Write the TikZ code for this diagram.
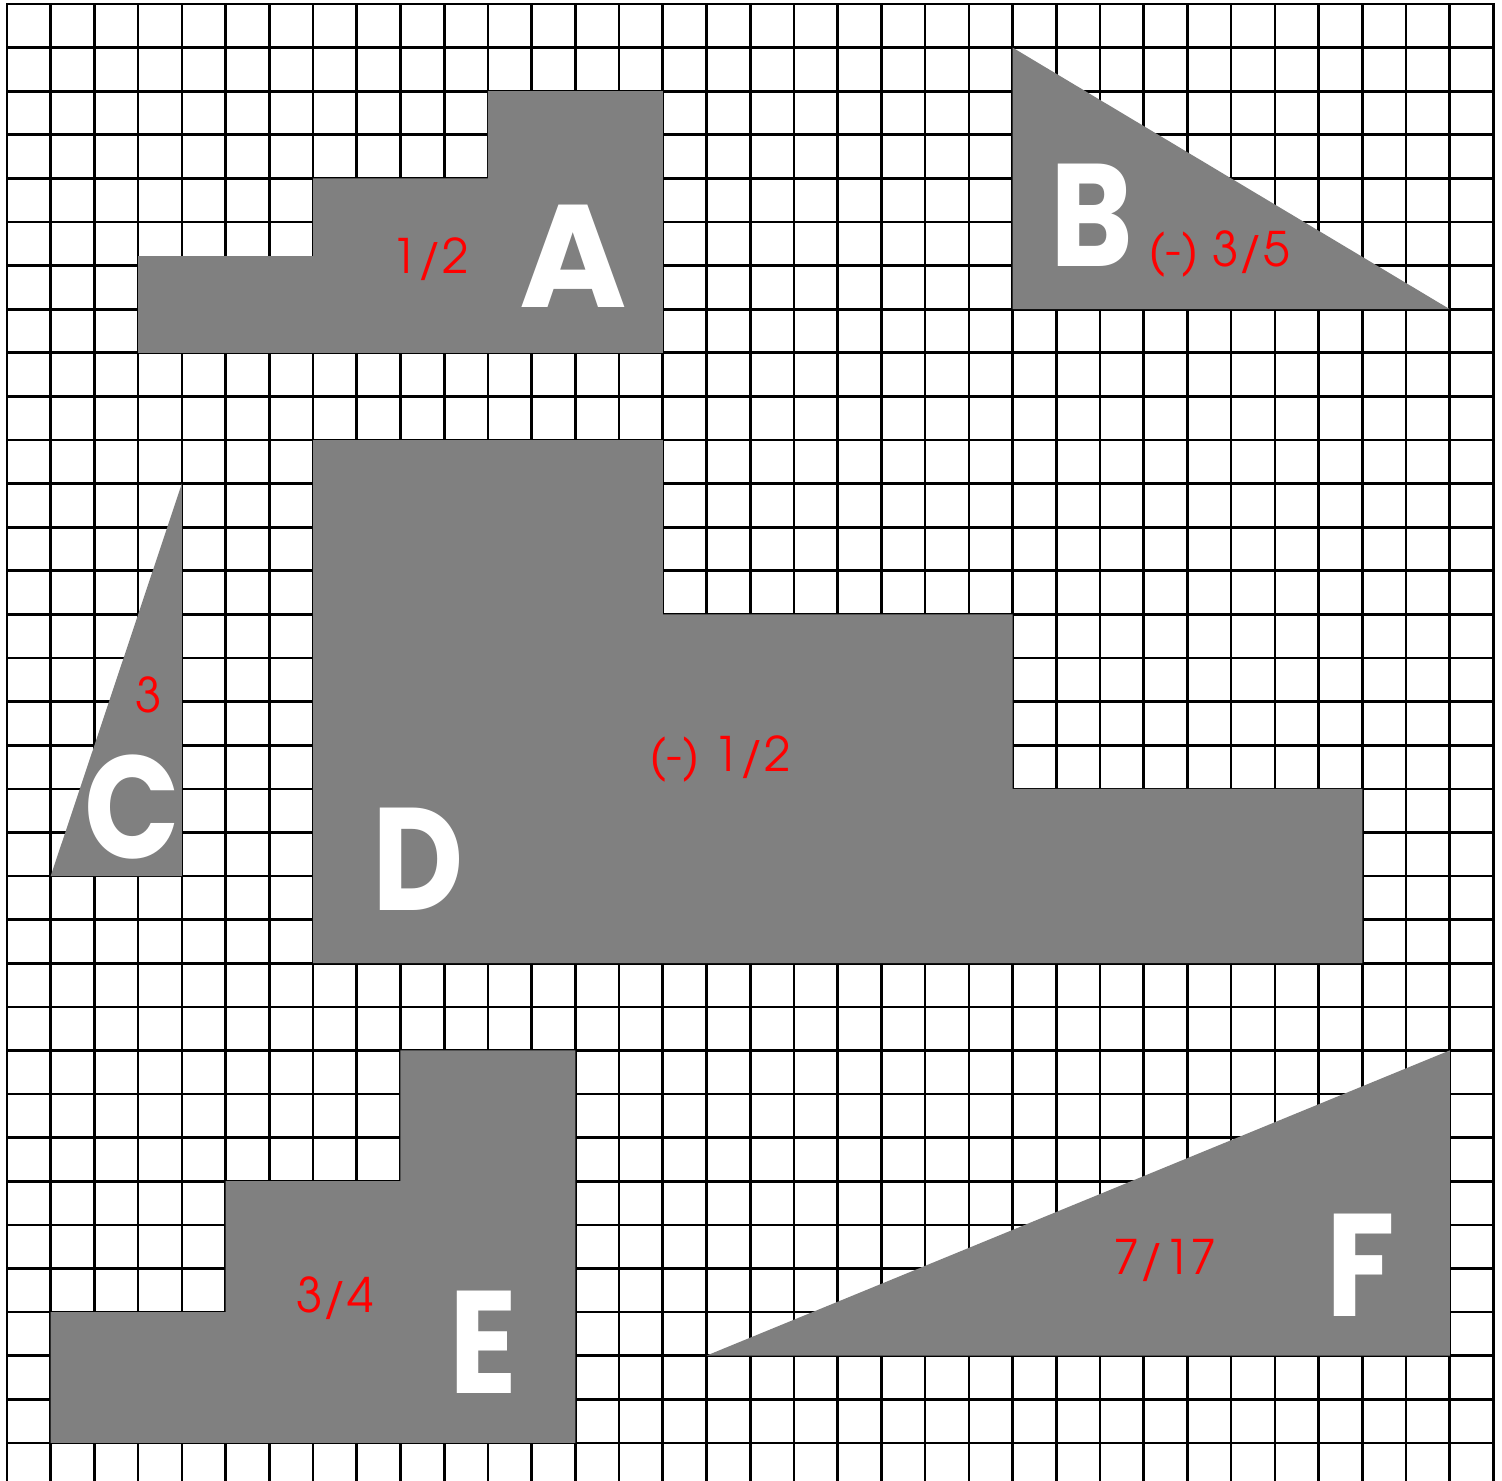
\documentclass[tikz,border=0pt]{standalone}
\usepackage{fontspec}
\IfFontExistsTF{texgyreadventor-regular.otf}{\setmainfont{texgyreadventor-regular.otf}}{\setmainfont{Poppins}}
\newfontfamily\letterfont{Poppins}[FakeStretch=0.86]
\newfontfamily\letterfontwide{Poppins}
\definecolor{shapegray}{HTML}{808080}
\tikzset{
  gridline/.style={line width=1.7pt, black, line cap=rect},
  shapefill/.style={fill=shapegray},
  val/.style={text=red, font=\fontsize{31}{31}\selectfont, inner sep=0pt, anchor=base},
  letter/.style={text=white, font=\letterfont\bfseries\fontsize{95}{95}\selectfont, inner sep=0pt, anchor=base},
  wideletter/.style={letter, font=\letterfontwide\bfseries\fontsize{95}{95}\selectfont}
}
\begin{document}
\begin{tikzpicture}[x={(1cm,0)}, y={(0,-0.99725cm)}]
\useasboundingbox (-0.160,-0.0917) rectangle (34.195,33.876);
\fill[white] (-0.160,-0.0917) rectangle (34.195,33.876);
% grid
\foreach \i in {0,...,34} \draw[gridline] (\i,0) -- (\i,34.2);
\foreach \j in {0,...,33} \draw[gridline] (0,\j) -- (34,\j);
% shapes
\fill[shapefill] (3,8) -- (3,5.78) -- (7,5.78) -- (7,4) -- (11,4) -- (11,2) -- (15,2) -- (15,8) -- cycle;
\fill[shapefill] (23,1) -- (23,7) -- (33,7) -- cycle;
\fill[shapefill] (4,11) -- (1,20) -- (4,20) -- cycle;
\fill[shapefill] (7,10) -- (15,10) -- (15,14) -- (23,14) -- (23,18) -- (31,18) -- (31,22) -- (7,22) -- cycle;
\fill[shapefill] (1,33) -- (1,30) -- (5,30) -- (5,27) -- (9,27) -- (9,24) -- (13,24) -- (13,33) -- cycle;
\fill[shapefill] (16,31) -- (33,31) -- (33,24) -- cycle;
% values
\node[val] (vA) at (9.675,6.17) {1/2};
\node[val] (vB) at (27.72,6.03) {(-) 3/5};
\node[val] (vC) at (3.248,16.24) {3};
\node[val] (vD) at (16.31,17.61) {(-) 1/2};
\node[val] (vE) at (7.502,30.0) {3/4};
\node[val] (vF) at (26.49,29.15) {7/17};
% letters
\node[wideletter] (A) at (12.946,6.97) {A};
\node[letter] (B) at (24.82,6.03) {B};
\node[letter] (C) at (2.86,19.6) {C};
\node[letter] (D) at (9.40,20.78) {D};
\node[letter] (E) at (10.89,31.86) {E};
\node[letter] (F) at (30.97,30.11) {F};
\end{tikzpicture}
\end{document}
